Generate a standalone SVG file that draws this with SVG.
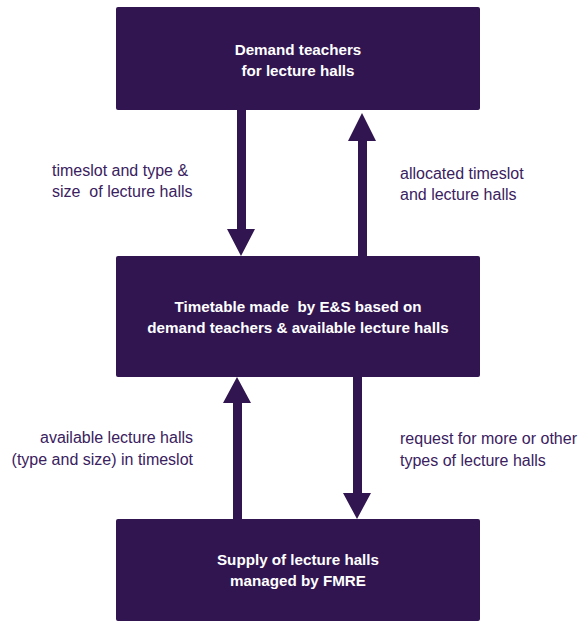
<svg xmlns="http://www.w3.org/2000/svg" width="585" height="622" viewBox="0 0 585 622">
<style>
.box{fill:#311550;}
.bt{font-family:"Liberation Sans",Arial,sans-serif;font-weight:bold;font-size:15.2px;fill:#ffffff;text-anchor:middle;white-space:pre;}
.lb{font-family:"Liberation Sans",Arial,sans-serif;font-size:16px;fill:#3a2160;white-space:pre;}
.ar{fill:#311550;}
</style>
<rect width="585" height="622" fill="#ffffff"/>
<g id="node-demand">
<rect class="box" x="116" y="7" width="364" height="103" rx="2"/>
<text class="bt" x="298" y="55">Demand teachers</text>
<text class="bt" x="298" y="76">for lecture halls</text>
</g>
<g id="node-timetable">
<rect class="box" x="116" y="256" width="364" height="121" rx="2"/>
<text class="bt" x="298" y="312">Timetable made  by E&amp;S based on</text>
<text class="bt" x="298" y="333">demand teachers &amp; available lecture halls</text>
</g>
<g id="node-supply">
<rect class="box" x="116" y="519" width="364" height="102" rx="2"/>
<text class="bt" x="298" y="565">Supply of lecture halls</text>
<text class="bt" x="298" y="586">managed by FMRE</text>
</g>
<g id="connectors">
<polygon class="ar" points="237,110 246,110 246,229 255,229 241,256 227,229 237,229"/>
<polygon class="ar" points="358,256 367,256 367,141 376,141 362,113 348,141 358,141"/>
<polygon class="ar" points="233,519 242,519 242,403 251,403 237,377 223,403 233,403"/>
<polygon class="ar" points="353,377 362,377 362,493 371,493 357,519 343,493 353,493"/>
</g>
<g id="labels">
<text class="lb" x="52" y="176">timeslot and type &amp;</text>
<text class="lb" x="52" y="197">size  of lecture halls</text>
<text class="lb" x="400" y="179">allocated timeslot</text>
<text class="lb" x="400" y="200">and lecture halls</text>
<text class="lb" x="193" y="443" text-anchor="end">available lecture halls</text>
<text class="lb" x="193" y="465" text-anchor="end">(type and size) in timeslot</text>
<text class="lb" x="400" y="444">request for more or other</text>
<text class="lb" x="400" y="466">types of lecture halls</text>
</g>
</svg>
